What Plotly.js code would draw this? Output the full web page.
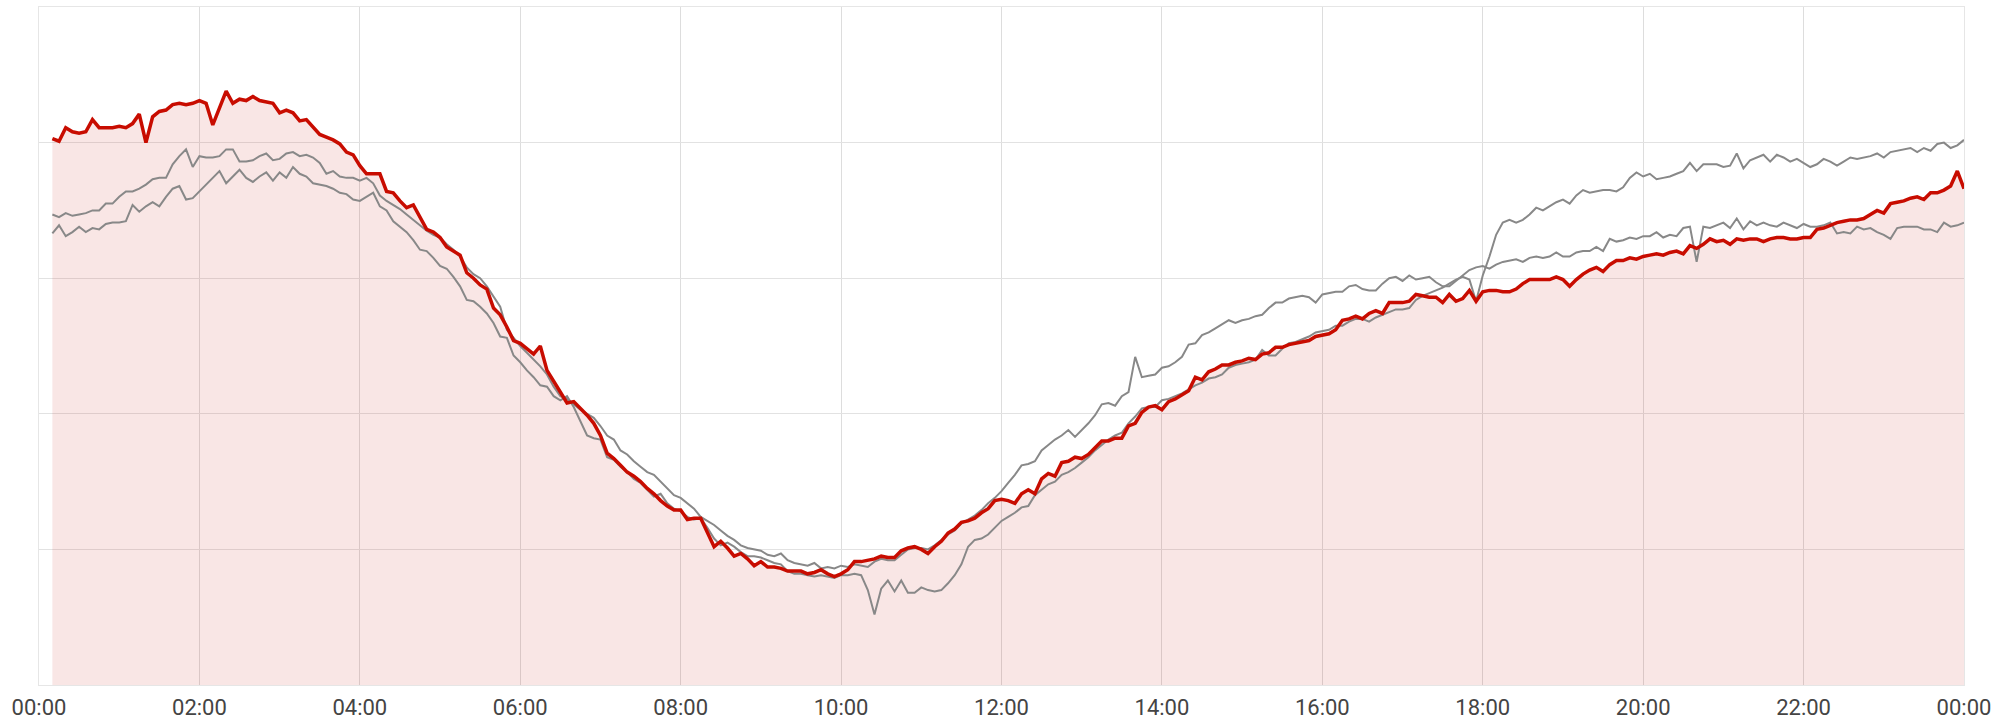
<!DOCTYPE html>
<html>
<head>
<meta charset="utf-8">
<script src="https://cdn.plot.ly/plotly-3.0.1.min.js"></script>
<style>html,body{margin:0;padding:0;background:#fff;}#chart{width:2013px;height:724px;}</style>
</head>
<body>
<div id="chart"></div>
<script>
// Time axis: samples every 5 minutes from 00:10 to 24:00
const dayStart = Date.UTC(2024, 0, 1);
const firstSampleMinute = 10;
const sampleStepMinutes = 5;

// Main (red) series
const todayValues = [
40.3,40.1,41.1,40.8,40.7,40.8,41.7,41.1,41.1,41.1,
41.2,41.1,41.4,42.1,40.0,41.9,42.3,42.4,42.8,42.9,
42.8,42.9,43.1,42.9,41.3,42.6,43.8,42.9,43.2,43.1,
43.4,43.1,43.0,42.9,42.2,42.4,42.2,41.6,41.7,41.1,
40.6,40.4,40.2,39.9,39.3,39.1,38.3,37.7,37.7,37.7,
36.4,36.3,35.7,35.2,35.4,34.5,33.6,33.4,33.0,32.3,
32.0,31.7,30.4,30.0,29.5,29.2,27.8,27.3,26.4,25.4,
25.2,24.8,24.4,25.0,23.2,22.4,21.6,20.8,20.9,20.4,
19.9,19.3,18.4,17.1,16.7,16.2,15.7,15.4,15.0,14.5,
14.1,13.6,13.2,12.9,12.9,12.2,12.3,12.3,11.3,10.2,
10.6,10.1,9.5,9.7,9.3,8.8,9.1,8.7,8.7,8.6,
8.4,8.4,8.4,8.2,8.3,8.5,8.2,8.0,8.2,8.5,
9.1,9.1,9.2,9.3,9.5,9.4,9.4,9.9,10.1,10.2,
10.0,9.7,10.2,10.6,11.2,11.5,12.0,12.1,12.3,12.7,
13.0,13.6,13.7,13.6,13.4,14.1,14.4,14.1,15.2,15.6,
15.4,16.4,16.5,16.8,16.7,17.0,17.5,18.0,18.0,18.2,
18.2,19.1,19.3,20.1,20.5,20.6,20.3,20.9,21.1,21.4,
21.7,22.7,22.5,23.1,23.3,23.6,23.6,23.8,23.9,24.1,
24.0,24.4,24.5,24.9,24.9,25.1,25.2,25.3,25.4,25.7,
25.8,25.9,26.2,26.9,27.0,27.2,27.0,27.4,27.6,27.4,
28.2,28.2,28.2,28.3,28.8,28.7,28.6,28.6,28.2,28.8,
28.3,28.5,29.1,28.3,29.0,29.1,29.1,29.0,29.0,29.2,
29.6,29.9,29.9,29.9,29.9,30.1,29.9,29.4,29.9,30.3,
30.6,30.8,30.5,31.0,31.3,31.3,31.5,31.4,31.6,31.7,
31.8,31.7,31.9,32.0,31.8,32.4,32.2,32.5,32.9,32.7,
32.8,32.5,32.9,32.8,32.9,32.9,32.7,32.9,33.0,33.0,
32.9,32.9,33.0,33.0,33.6,33.7,33.9,34.1,34.2,34.3,
34.3,34.4,34.7,35.0,34.8,35.5,35.6,35.7,35.9,36.0,
35.8,36.3,36.3,36.5,36.8,37.9,36.6
];

// Comparison series (gray) #1
const compareAValues = [
34.7,34.5,34.8,34.6,34.7,34.8,35.0,35.0,35.5,35.5,
36.0,36.4,36.4,36.6,36.9,37.3,37.4,37.4,38.4,39.0,
39.5,38.2,39.0,38.9,38.9,39.0,39.5,39.5,38.6,38.6,
38.7,39.0,39.2,38.7,38.8,39.2,39.3,39.0,39.1,38.9,
38.5,37.7,37.9,37.5,37.4,37.4,37.2,37.4,37.0,36.1,
35.7,35.4,35.1,34.7,34.3,33.9,33.5,33.2,33.0,32.5,
32.1,31.6,30.8,30.3,30.0,29.4,28.6,27.9,26.2,25.6,
25.0,24.5,24.0,23.5,22.9,22.0,21.3,21.1,20.7,20.3,
20.0,19.7,19.1,18.4,18.1,17.3,17.0,16.5,16.1,15.7,
15.5,15.0,14.5,14.0,13.8,13.4,13.0,12.4,12.1,11.8,
11.4,11.0,10.7,10.3,10.1,10.0,9.9,9.6,9.5,9.7,
9.2,9.0,8.9,8.8,9.0,8.6,8.7,8.6,8.8,8.7,
8.9,8.8,8.7,9.1,9.3,9.2,9.2,9.6,10.0,10.1,
10.1,10.0,10.3,10.7,11.1,11.4,11.9,12.2,12.5,12.9,
13.4,13.8,14.3,14.9,15.5,16.2,16.3,16.5,17.3,17.7,
18.1,18.4,18.8,18.3,18.8,19.3,19.9,20.7,20.8,20.6,
21.3,21.6,24.2,22.7,22.8,22.9,23.4,23.5,23.8,24.2,
25.1,25.2,25.8,26.0,26.3,26.6,26.9,26.7,26.9,27.0,
27.2,27.3,27.8,28.2,28.2,28.5,28.6,28.7,28.6,28.2,
28.8,28.9,29.0,29.0,29.4,29.5,29.2,29.1,29.1,29.6,
30.0,30.1,29.8,30.2,29.9,30.0,30.1,29.7,29.4,29.4,
29.8,30.2,30.6,30.8,30.9,30.7,31.0,31.2,31.3,31.4,
31.2,31.5,31.6,31.5,31.6,31.9,31.6,31.6,31.9,32.0,
32.0,32.3,32.0,32.9,32.7,32.8,33.0,32.9,33.1,33.1,
33.4,33.0,33.2,33.1,33.7,33.8,31.2,33.8,33.7,33.9,
34.1,33.7,34.4,33.6,34.2,33.9,34.1,33.9,33.8,34.1,
33.9,33.7,34.0,33.8,33.8,33.9,34.1,33.3,33.4,33.3,
33.8,33.6,33.7,33.4,33.2,32.9,33.7,33.8,33.8,33.8,
33.6,33.6,33.4,34.1,33.8,33.9,34.1
];

// Comparison series (gray) #2
const compareBValues = [
33.3,33.9,33.1,33.4,33.8,33.4,33.7,33.6,34.0,34.1,
34.1,34.2,35.4,34.9,35.3,35.6,35.3,36.0,36.6,36.8,
35.8,35.9,36.4,36.9,37.4,37.9,37.0,37.5,38.0,37.4,
37.1,37.5,37.8,37.2,37.8,37.4,38.2,37.7,37.5,37.0,
36.9,36.8,36.6,36.3,36.2,35.8,35.7,36.0,36.3,35.3,
35.0,34.2,33.8,33.4,32.8,32.1,32.0,31.5,30.9,30.7,
30.1,29.4,28.4,28.3,27.9,27.4,26.7,25.7,25.6,24.3,
23.8,23.2,22.7,22.1,22.0,21.3,21.0,21.3,20.5,19.5,
18.4,18.2,18.1,16.8,16.6,16.1,15.7,15.2,14.9,14.4,
13.9,14.1,13.4,13.0,12.8,12.4,12.2,12.3,11.6,10.8,
10.3,10.5,10.2,9.8,9.5,9.5,9.4,9.2,9.0,8.9,
8.4,8.2,8.2,8.1,8.0,8.1,8.0,7.9,8.1,8.1,
8.2,8.1,7.0,5.2,7.1,7.7,6.9,7.7,6.8,6.8,
7.2,7.0,6.9,7.0,7.5,8.1,8.9,10.2,10.7,10.8,
11.1,11.6,12.1,12.4,12.7,13.1,13.2,14.0,14.4,14.8,
15.0,15.5,15.7,16.0,16.4,16.8,17.3,17.7,18.1,18.4,
18.6,19.3,19.8,20.4,20.5,20.5,21.0,21.1,21.3,21.5,
21.8,22.1,22.3,22.6,22.7,22.9,23.4,23.6,23.7,23.8,
24.0,24.7,24.3,24.3,24.8,25.2,25.3,25.5,25.7,26.0,
26.1,26.2,26.5,26.5,26.8,27.0,27.0,26.8,27.1,27.3,
27.5,27.7,27.7,27.8,28.4,28.7,28.9,29.1,29.3,29.6,
29.9,30.1,29.9,28.3,30.2,31.6,33.2,34.1,34.3,34.1,
34.3,34.7,35.2,35.0,35.3,35.6,35.8,35.5,36.1,36.5,
36.3,36.4,36.5,36.5,36.4,36.7,37.4,37.8,37.5,37.7,
37.3,37.4,37.5,37.7,37.9,38.5,37.9,38.4,38.4,38.4,
38.2,38.3,39.2,38.1,38.7,38.9,39.1,38.6,39.1,38.9,
38.6,38.8,38.5,38.2,38.4,38.8,38.6,38.3,38.6,38.9,
38.8,38.9,39.0,39.2,38.9,39.3,39.4,39.5,39.6,39.3,
39.6,39.4,39.9,40.0,39.6,39.8,40.2
];

const times = todayValues.map((_, i) => dayStart + (firstSampleMinute + sampleStepMinutes * i) * 60000);

const RED = '#c80c00';
const GRAY = '#888888';

const traces = [
  { x: times, y: todayValues, type: 'scatter', mode: 'lines', fill: 'tozeroy',
    fillcolor: 'rgba(200,12,0,0.1)', line: { width: 0, color: RED }, hoverinfo: 'skip' },
  { x: times, y: compareAValues, type: 'scatter', mode: 'lines', line: { color: GRAY, width: 2 } },
  { x: times, y: compareBValues, type: 'scatter', mode: 'lines', line: { color: GRAY, width: 2 } },
  { x: times, y: todayValues, type: 'scatter', mode: 'lines', line: { color: RED, width: 3.5 } }
];

const layout = {
  width: 2013, height: 724,
  margin: { l: 39, r: 49, t: 7, b: 39, pad: 0 },
  paper_bgcolor: '#ffffff', plot_bgcolor: '#ffffff',
  showlegend: false,
  font: { family: 'Roboto, sans-serif', size: 22, color: '#444444' },
  xaxis: {
    type: 'date',
    range: [dayStart, dayStart + 24 * 3600000],
    tick0: dayStart, dtick: 2 * 3600000,
    tickformat: '%H:%M',
    showgrid: true, gridcolor: '#dddddd', gridwidth: 1,
    showline: true, mirror: true, linecolor: '#e6e6e6', linewidth: 1,
    zeroline: false, ticks: '', ticklabelstandoff: 3,
    tickfont: { family: 'Roboto, sans-serif', size: 22, color: '#444444' }
  },
  yaxis: {
    range: [0, 50], dtick: 10,
    showticklabels: false,
    showgrid: true, gridcolor: '#e2e2e2', gridwidth: 1,
    showline: true, mirror: true, linecolor: '#e6e6e6', linewidth: 1,
    zeroline: false, ticks: ''
  }
};

Plotly.newPlot('chart', traces, layout, { displayModeBar: false, staticPlot: true });
</script>
</body>
</html>
